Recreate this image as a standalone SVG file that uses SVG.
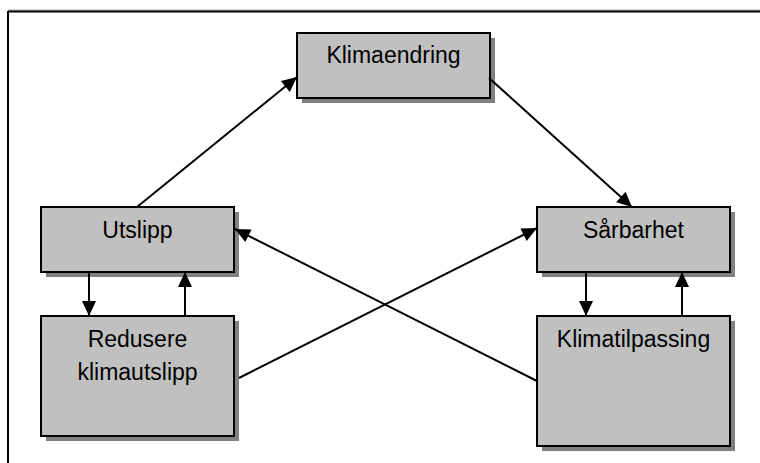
<svg xmlns="http://www.w3.org/2000/svg" width="760" height="463" viewBox="0 0 760 463">
<defs>
<marker id="arr" markerUnits="userSpaceOnUse" markerWidth="16" markerHeight="15" refX="15" refY="7" orient="auto" overflow="visible">
<path d="M0,0 L15,7 L0,14 Z" fill="#000"/>
</marker>
</defs>
<style>
.shadow{fill:#808080;}
.box{fill:#c0c0c0;stroke:#000;stroke-width:2;}
.lbl{font-family:"Liberation Sans",Arial,sans-serif;font-size:23px;fill:#000;text-anchor:middle;}
.conn{stroke:#000;stroke-width:2;fill:none;marker-end:url(#arr);}
</style>
<rect width="760" height="463" fill="#fff"/>
<g id="frame">
<line x1="8" y1="10" x2="760" y2="10" stroke="#999" stroke-width="1"/>
<line x1="8" y1="11.5" x2="760" y2="11.5" stroke="#000" stroke-width="2"/>
<line x1="8" y1="11" x2="8" y2="463" stroke="#000" stroke-width="2"/>
</g>
<g id="klimaendring">
<rect class="shadow" x="302" y="38" width="193" height="65"/>
<rect class="box" x="297" y="33" width="193" height="65"/>
<text class="lbl" x="393.5" y="63">Klimaendring</text>
</g>
<g id="utslipp">
<rect class="shadow" x="46" y="212" width="193" height="65"/>
<rect class="box" x="41" y="207" width="193" height="65"/>
<text class="lbl" x="137.5" y="238">Utslipp</text>
</g>
<g id="sarbarhet">
<rect class="shadow" x="542" y="212" width="193" height="65"/>
<rect class="box" x="537" y="207" width="193" height="65"/>
<text class="lbl" x="633.5" y="238">Sårbarhet</text>
</g>
<g id="redusere">
<rect class="shadow" x="46" y="321" width="193" height="120"/>
<rect class="box" x="41" y="316" width="193" height="120"/>
<text class="lbl" x="137.5" y="347">Redusere</text>
<text class="lbl" x="137.5" y="380">klimautslipp</text>
</g>
<g id="klimatilpassing">
<rect class="shadow" x="542" y="321" width="193" height="130"/>
<rect class="box" x="537" y="316" width="193" height="130"/>
<text class="lbl" x="633.5" y="347">Klimatilpassing</text>
</g>
<g id="connectors">
<line class="conn" x1="137" y1="207" x2="297" y2="77"/>
<line class="conn" x1="489" y1="78" x2="632" y2="207"/>
<line class="conn" x1="89" y1="272" x2="89" y2="316"/>
<line class="conn" x1="185" y1="316" x2="185" y2="272"/>
<line class="conn" x1="586" y1="272" x2="586" y2="316"/>
<line class="conn" x1="682" y1="316" x2="682" y2="272"/>
<line class="conn" x1="537" y1="381" x2="235" y2="229"/>
<line class="conn" x1="239" y1="378" x2="537" y2="228"/>
</g>
</svg>
